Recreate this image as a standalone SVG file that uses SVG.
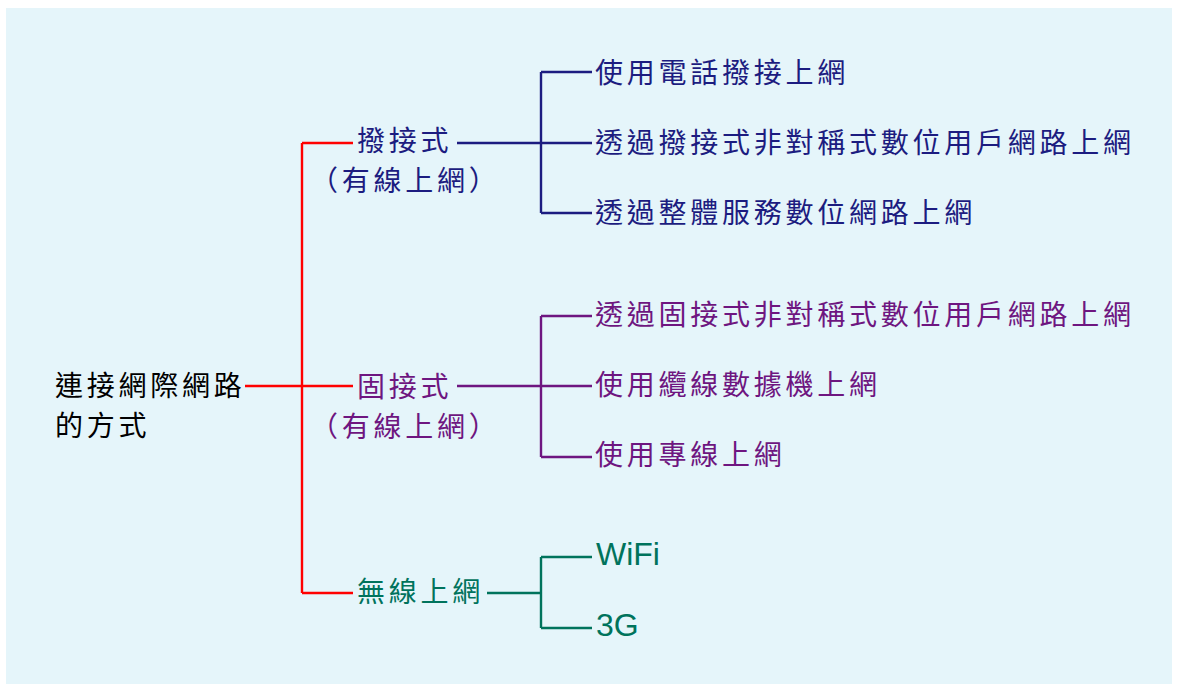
<svg xmlns="http://www.w3.org/2000/svg" width="1178" height="687" viewBox="0 0 1178 687">
<style>
.t{font-family:"Noto Sans CJK TC","Noto Sans CJK SC",sans-serif;font-size:28px;letter-spacing:3.75px}
.l{font-family:"Liberation Sans",Arial,sans-serif;font-size:32px}
.ln{fill:none;stroke-width:2.4}
.red{stroke:#FF0000}.navy{stroke:#1C1C80;fill:#1C1C80}.pur{stroke:#6E1680;fill:#6E1680}.grn{stroke:#00735C;fill:#00735C}
</style>
<rect x="6" y="8" width="1166" height="676" fill="#E5F5FA"/>
<g id="connectors">
<path class="ln red" d="M245,386H302M302,143V593M302,143H353M302,386H353M302,593H353"/>
<path class="ln navy" style="fill:none" d="M457,143H592M541,72V213M541,72H592M541,213H592"/>
<path class="ln pur" style="fill:none" d="M457,386H592M541,316V457M541,316H592M541,457H592"/>
<path class="ln grn" style="fill:none" d="M487,593H541M541,557V628M541,557H592M541,628H592"/>
</g>
<g id="root"><text class="t" x="55" y="396" fill="#000">連接網際網路</text><text class="t" x="55" y="436" fill="#000">的方式</text></g>
<g id="dialup" class="navy"><text class="t" x="357" y="151" stroke="none">撥接式</text><text class="t" x="310" y="191" stroke="none">（有線上網）</text></g>
<g id="fixed" class="pur"><text class="t" x="357" y="397" stroke="none">固接式</text><text class="t" x="310" y="437" stroke="none">（有線上網）</text></g>
<g id="wireless" class="grn"><text class="t" x="357" y="602" stroke="none">無線上網</text></g>
<g id="d1" class="navy"><text class="t" x="595" y="83" stroke="none">使用電話撥接上網</text></g>
<g id="d2" class="navy"><text class="t" x="595" y="153" stroke="none">透過撥接式非對稱式數位用戶網路上網</text></g>
<g id="d3" class="navy"><text class="t" x="595" y="223" stroke="none">透過整體服務數位網路上網</text></g>
<g id="f1" class="pur"><text class="t" x="595" y="325" stroke="none">透過固接式非對稱式數位用戶網路上網</text></g>
<g id="f2" class="pur"><text class="t" x="595" y="395" stroke="none">使用纜線數據機上網</text></g>
<g id="f3" class="pur"><text class="t" x="595" y="465" stroke="none">使用專線上網</text></g>
<g id="w1" class="grn"><text class="l" x="596" y="565" stroke="none">WiFi</text></g>
<g id="w2" class="grn"><text class="l" x="596" y="636" stroke="none">3G</text></g>
</svg>
